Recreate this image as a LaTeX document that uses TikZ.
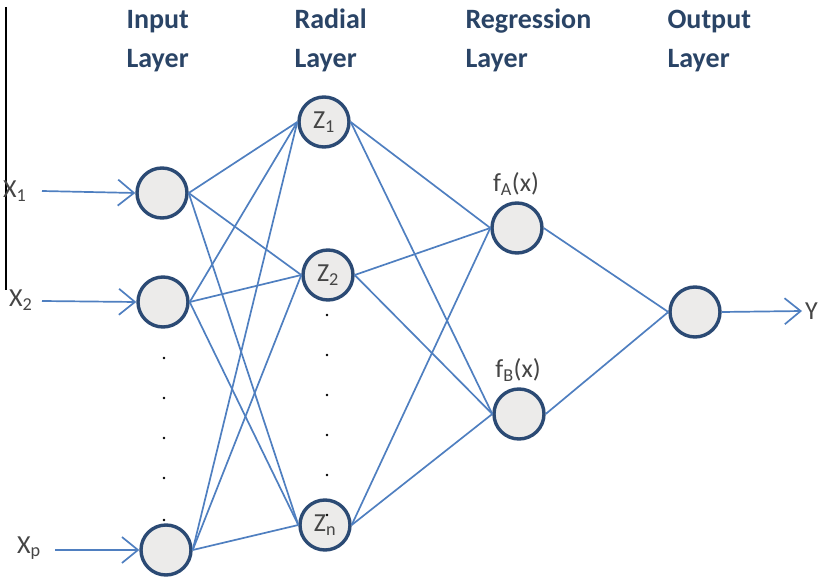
\documentclass[tikz,border=0pt]{standalone}
\usepackage{fontspec}
\setmainfont{Carlito}
\usetikzlibrary{arrows.meta}
\definecolor{ringblue}{HTML}{2B4A74}
\definecolor{wireblue}{HTML}{4F7FC0}
\definecolor{headblue}{HTML}{2A4466}
\definecolor{nodefill}{HTML}{ECEBEA}
\definecolor{labelgrey}{HTML}{454545}
\tikzset{
  neuron/.style={circle, draw=ringblue, line width=3.4pt, fill=nodefill,
    minimum size=50pt, inner sep=0pt, text=labelgrey,
    font=\fontsize{26}{28}\selectfont},
  wire/.style={draw=wireblue, line width=1.7pt},
  feed/.style={wire, -{Straight Barb[length=16pt,width=26pt,line width=1.7pt]}},
  header/.style={anchor=base west, text=headblue,
    font=\bfseries\fontsize{28}{32}\selectfont},
  tag/.style={text=labelgrey, font=\fontsize{26}{28}\selectfont},
  dotmark/.style={fill=black, circle, inner sep=0pt, minimum size=2.8pt}
}
\begin{document}
\begin{tikzpicture}[x=1pt, y=-1pt]
\useasboundingbox (0,0) rectangle (822,580);

% left margin rule
\draw[black, line width=1.3pt] (6,7) -- (6,290);

% column headings
\node[header] (hIn)   at (123,29) {Input};
\node[header] (hInL)  at (123,68) {Layer};
\node[header] (hRad)  at (291,29) {Radial};
\node[header] (hRadL) at (291,68) {Layer};
\node[header] (hReg)  at (462,29) {Regression};
\node[header] (hRegL) at (462,68) {Layer};
\node[header] (hOut)  at (664,29) {Output};
\node[header] (hOutL) at (664,68) {Layer};

% input layer
\node[neuron] (i1) at (162,193) {};
\node[neuron] (i2) at (163,302) {};
\node[neuron] (ip) at (166,550) {};

% radial layer
\node[neuron] (z1) at (324,122) {Z\textsubscript{1}};
\node[neuron] (z2) at (328,275) {Z\textsubscript{2}};
\node[neuron] (zn) at (325,525) {Z\textsubscript{n}};

% regression layer
\node[neuron] (fa) at (517,228) {};
\node[neuron] (fb) at (519,414) {};

% output layer
\node[neuron] (out) at (695,312) {};

% function labels
\node[tag] (faLab) at (516,184) {f\textsubscript{A}(x)};
\node[tag] (fbLab) at (518,370) {f\textsubscript{B}(x)};

% external inputs and output
\node[tag, anchor=west, inner sep=0pt] (x1) at (3,191) {X\textsubscript{1}};
\node[tag, anchor=west, inner sep=0pt] (x2) at (9,300) {X\textsubscript{2}};
\node[tag, anchor=west, inner sep=0pt] (xp) at (17,548) {X\textsubscript{p}};
\node[tag, anchor=west, inner sep=0pt] (y)  at (805,311) {Y};
\coordinate (x1e) at (42,191);
\coordinate (x2e) at (42,301);
\coordinate (xpe) at (55,550);
\coordinate (ye)  at (802,311);
\draw[feed] (x1e) -- (i1.west);
\draw[feed] (x2e) -- (i2.west);
\draw[feed] (xpe) -- (ip.west);
\draw[feed] (out.east) -- (ye);

% input -> radial
\foreach \a in {i1,i2,ip}
  \foreach \b in {z1,z2,zn}
    \draw[wire] (\a.east) -- (\b.west);

% radial -> regression
\foreach \a in {z1,z2,zn}
  \foreach \b in {fa,fb}
    \draw[wire] (\a.east) -- (\b.west);

% regression -> output
\draw[wire] (fa.east) -- (out.west);
\draw[wire] (fb.east) -- (out.west);

% ellipsis dots
\foreach \yy [count=\k] in {358,398,438,478,520}
  \node[dotmark] (di\k) at (164,\yy) {};
\foreach \yy [count=\k] in {315,355,395,435,475,515}
  \node[dotmark] (dz\k) at (327,\yy) {};
\end{tikzpicture}
\end{document}
